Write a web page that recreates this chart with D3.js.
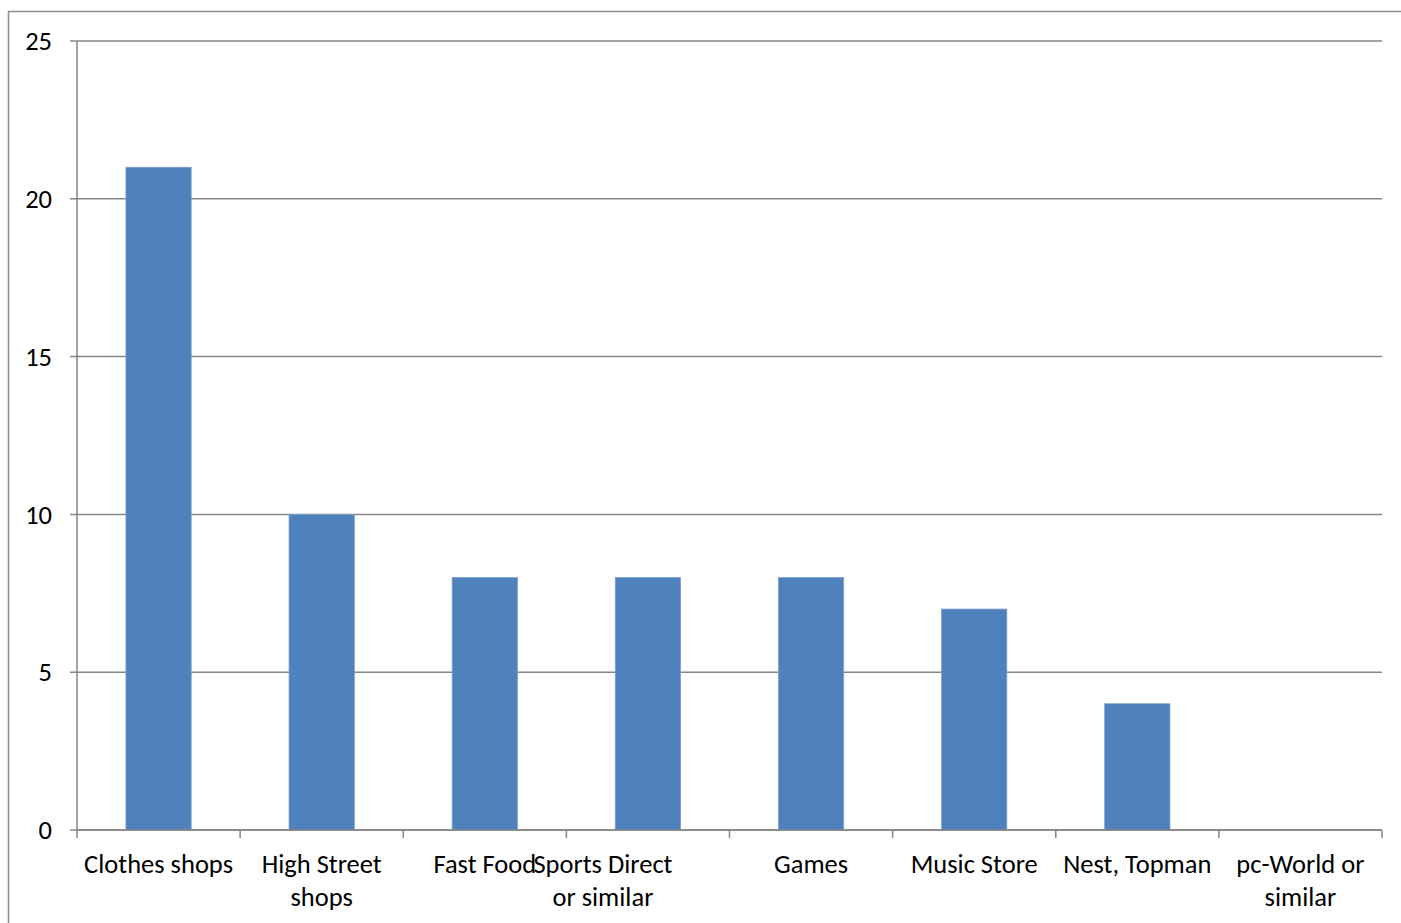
<!DOCTYPE html>
<html><head><meta charset="utf-8">
<script src="https://cdn.jsdelivr.net/npm/d3@7"></script>
<style>body{margin:0;background:#fff;}svg{display:block;}</style>
</head><body>
<svg id="c" width="1401" height="923"></svg>
<script>
const categories = ["Clothes shops","High Street shops","Fast Food","Sports Direct or similar","Games","Music Store","Nest, Topman","pc-World or similar"];
const labelLines = [["Clothes shops"],["High Street","shops"],["Fast Food"],["Sports Direct","or similar"],["Games"],["Music Store"],["Nest, Topman"],["pc-World or","similar"]];
const values = [21,10,8,8,8,7,4,0];
const yTicks = [0,5,10,15,20,25];

(function(){
const svg = d3.select("#c");
const font = "Carlito, Calibri, 'Open Sans', 'Noto Sans', sans-serif";
const pL = 77, pR = 1382, pT = 41, pB = 830;
const x = d3.scaleBand().domain(categories).range([pL, pR]).paddingInner(0.6).paddingOuter(0.3);
const xb = d3.scaleBand().domain(categories).range([pL, pR]);
const y = d3.scaleLinear().domain([0,25]).range([pB, pT]);
const grey = "#868686";
const fs = 26.5;
// Excel nudges the too-wide label of the 4th category to the left
const shift = i => (i === 3 ? -45 : 0);

svg.append("path").attr("d", `M8.5,923 V11.5 H1401`).attr("fill","none").attr("stroke","#8c8c8c").attr("stroke-width",1.5);

svg.append("g").selectAll("line").data(yTicks).join("line")
  .attr("x1", pL-7).attr("x2", pR).attr("y1", d=>y(d)).attr("y2", d=>y(d))
  .attr("stroke", grey).attr("stroke-width",1.5);
svg.append("g").selectAll("text").data(yTicks).join("text")
  .attr("x", 52).attr("y", d=>y(d)).attr("dy","0.35em").attr("text-anchor","end")
  .attr("font-family",font).attr("font-size",fs).attr("fill","#000").text(d=>d);

svg.append("line").attr("x1",pL).attr("x2",pL).attr("y1",pT).attr("y2",pB)
  .attr("stroke",grey).attr("stroke-width",1.5);

svg.append("g").selectAll("rect").data(values).join("rect")
  .attr("x",(d,i)=>x(categories[i])).attr("width",x.bandwidth())
  .attr("y",d=>y(d)).attr("height",d=>y(0)-y(d))
  .attr("fill","#4F81BD").attr("stroke","#7a9fd0").attr("stroke-width",0.8);

svg.append("line").attr("x1",pL).attr("x2",pR).attr("y1",pB).attr("y2",pB)
  .attr("stroke",grey).attr("stroke-width",1.5);
const bounds = categories.map(c=>xb(c)).concat([pR]);
svg.append("g").selectAll("line").data(bounds).join("line")
  .attr("x1",d=>d).attr("x2",d=>d).attr("y1",pB).attr("y2",pB+8)
  .attr("stroke",grey).attr("stroke-width",1.5);

const lg = svg.append("g").selectAll("text").data(categories).join("text")
  .attr("y", 873)
  .attr("text-anchor","middle").attr("font-family",font).attr("font-size",fs).attr("fill","#000");
lg.each(function(c,i){
  d3.select(this).selectAll("tspan").data(labelLines[i]).join("tspan")
    .attr("x", xb(c)+xb.bandwidth()/2+shift(i)).attr("dy",(d,j)=>j===0?0:33).text(d=>d);
});
})();
</script>
</body></html>
